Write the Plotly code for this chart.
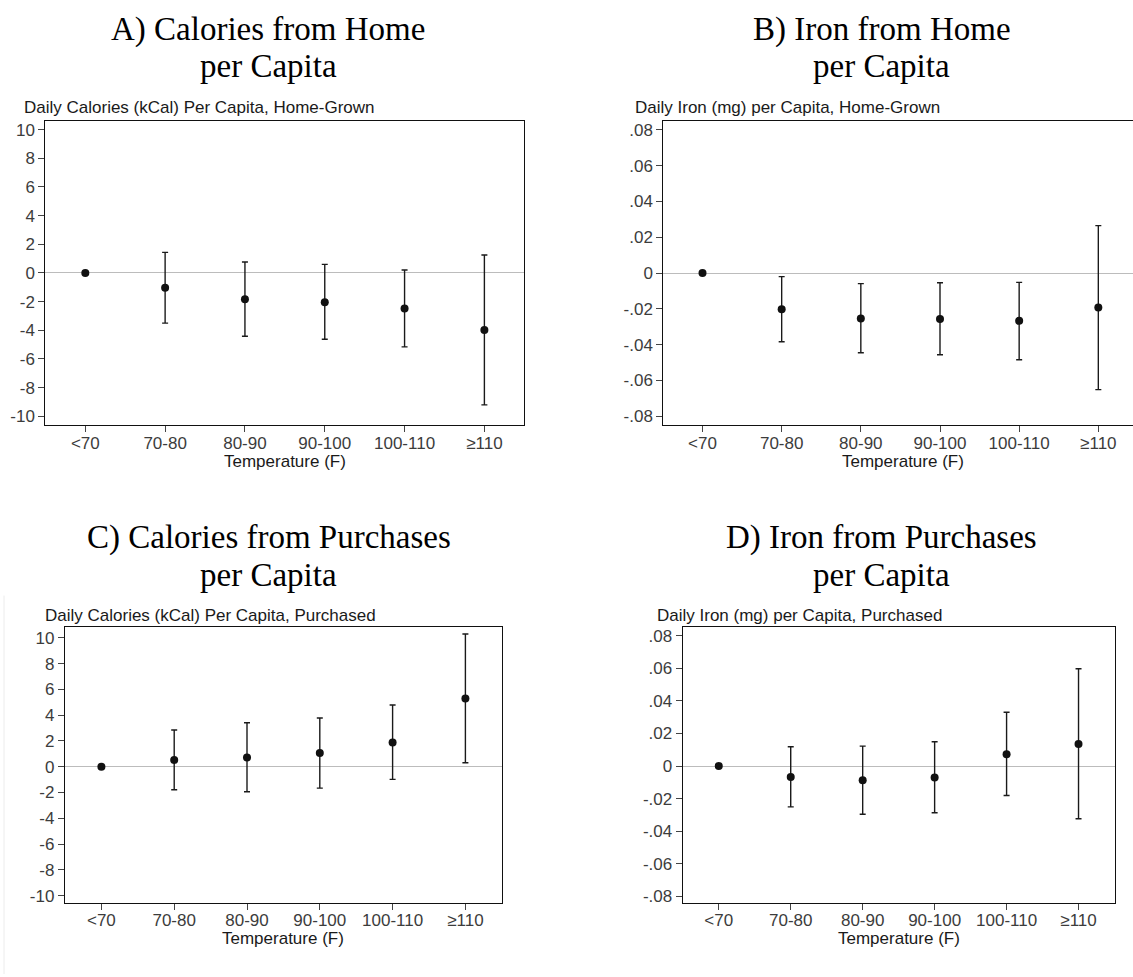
import plotly.graph_objects as go

W, H = 1133, 977

# Temperature bins (x categories)
temp_bins = ["<70", "70-80", "80-90", "90-100", "100-110", "≥110"]

# Panel A: daily calories per capita, home-grown
cal_home_est = [0, -1.04, -1.83, -2.04, -2.48, -3.98]
cal_home_lo = [None, -3.50, -4.42, -4.63, -5.16, -9.21]
cal_home_hi = [None, 1.435, 0.76, 0.60, 0.21, 1.25]

# Panel B: daily iron per capita, home-grown
iron_home_est = [0, -0.0202, -0.0254, -0.0256, -0.0267, -0.0193]
iron_home_lo = [None, -0.0384, -0.0445, -0.0456, -0.0484, -0.0651]
iron_home_hi = [None, -0.0020, -0.0059, -0.0054, -0.0052, 0.0265]

# Panel C: daily calories per capita, purchased
cal_purch_est = [0, 0.52, 0.72, 1.06, 1.89, 5.30]
cal_purch_lo = [None, -1.79, -1.94, -1.66, -0.98, 0.31]
cal_purch_hi = [None, 2.85, 3.42, 3.78, 4.79, 10.30]

# Panel D: daily iron per capita, purchased
iron_purch_est = [0, -0.0067, -0.0088, -0.0071, 0.0073, 0.0135]
iron_purch_lo = [None, -0.0251, -0.0296, -0.0287, -0.0181, -0.0324]
iron_purch_hi = [None, 0.0118, 0.0122, 0.0149, 0.0330, 0.0597]

# Y tick values / labels
cal_ticks = [-10, -8, -6, -4, -2, 0, 2, 4, 6, 8, 10]
cal_ticktext = ["-10", "-8", "-6", "-4", "-2", "0", "2", "4", "6", "8", "10"]
iron_ticks = [-0.08, -0.06, -0.04, -0.02, 0, 0.02, 0.04, 0.06, 0.08]
iron_ticktext = ["-.08", "-.06", "-.04", "-.02", "0", ".02", ".04", ".06", ".08"]

# Titles
panel_titles = [
    ["A) Calories from Home", "per Capita"],
    ["B) Iron from Home", "per Capita"],
    ["C) Calories from Purchases", "per Capita"],
    ["D) Iron from Purchases", "per Capita"],
]
y_titles = [
    "Daily Calories (kCal) Per Capita, Home-Grown",
    "Daily Iron (mg) per Capita, Home-Grown",
    "Daily Calories (kCal) Per Capita, Purchased",
    "Daily Iron (mg) per Capita, Purchased",
]
x_title = "Temperature (F)"

SANS = "Liberation Sans, Arial, Helvetica, sans-serif"
SERIF = "Liberation Serif, Times New Roman, serif"


def px(x):
    return x / W


def py(y):
    return 1 - y / H


# Per-panel geometry in pixels: box (left, top, right, bottom)
panels = [
    dict(est=cal_home_est, lo=cal_home_lo, hi=cal_home_hi,
         box=(45.4, 120.7, 524.3, 426.0), xr=[-0.5, 5.5], yr=[-10.63, 10.59],
         ticks=cal_ticks, ticktext=cal_ticktext, right_line=True,
         title_x=268, title_y=(28.3, 65.5), sub_x=22, sub_y=107.3,
         xt_x=284.9, xt_y=462.5, xlab_shift=-4),
    dict(est=iron_home_est, lo=iron_home_lo, hi=iron_home_hi,
         box=(663.4, 120.7, 1133.0, 426.0), xr=[-0.494, 5.438], yr=[-0.0850, 0.0848],
         ticks=iron_ticks, ticktext=iron_ticktext, right_line=False,
         title_x=881.6, title_y=(28.3, 65.5), sub_x=633, sub_y=107.3,
         xt_x=902.7, xt_y=462.5, xlab_shift=-4),
    dict(est=cal_purch_est, lo=cal_purch_lo, hi=cal_purch_hi,
         box=(65.0, 628.3, 501.8, 906.0), xr=[-0.5, 5.5], yr=[-10.60, 10.87],
         ticks=cal_ticks, ticktext=cal_ticktext, right_line=True,
         title_x=268.6, title_y=(538.3, 576.7), sub_x=43, sub_y=616.7,
         xt_x=283.4, xt_y=941.0, xlab_shift=-5),
    dict(est=iron_purch_est, lo=iron_purch_lo, hi=iron_purch_hi,
         box=(682.8, 628.7, 1114.5, 906.0), xr=[-0.5, 5.5], yr=[-0.0843, 0.0853],
         ticks=iron_ticks, ticktext=iron_ticktext, right_line=True,
         title_x=881.0, title_y=(538.3, 576.7), sub_x=655, sub_y=616.7,
         xt_x=898.7, xt_y=941.0, xlab_shift=-5),
]

fig = go.Figure()
layout = dict(
    width=W, height=H,
    margin=dict(l=0, r=0, t=0, b=0),
    paper_bgcolor="white", plot_bgcolor="white",
    showlegend=False,
    annotations=[], shapes=[],
)

for i, p in enumerate(panels, start=1):
    sfx = "" if i == 1 else str(i)
    up = [None if h is None else h - e for h, e in zip(p["hi"], p["est"])]
    down = [None if l is None else e - l for l, e in zip(p["lo"], p["est"])]
    fig.add_trace(go.Scatter(
        x=temp_bins, y=p["est"], mode="markers",
        marker=dict(color="#111111", size=8),
        error_y=dict(type="data", symmetric=False, array=up, arrayminus=down,
                     color="#1a1a1a", thickness=1.4, width=3),
        xaxis="x" + sfx, yaxis="y" + sfx, hoverinfo="skip",
    ))
    l, t, r, b = p["box"]
    layout["xaxis" + sfx] = dict(
        domain=[px(l), px(r)], anchor="y" + sfx, type="category",
        range=p["xr"], showgrid=False, zeroline=False,
        showline=True, linecolor="#111111", linewidth=1.3, mirror=True,
        ticks="outside", ticklen=6, tickwidth=1, tickcolor="#444444",
        ticklabelstandoff=p["xlab_shift"],
        tickfont=dict(family=SANS, size=17, color="#3c3c3c"),
        fixedrange=True,
    )
    layout["yaxis" + sfx] = dict(
        domain=[py(b), py(t)], anchor="x" + sfx,
        range=p["yr"], showgrid=False,
        zeroline=True, zerolinecolor="#bcbcbc", zerolinewidth=1.2,
        showline=True, linecolor="#111111", linewidth=1.3,
        mirror=p["right_line"],
        tickmode="array", tickvals=p["ticks"], ticktext=p["ticktext"],
        ticks="outside", ticklen=6, tickwidth=1, tickcolor="#444444",
        tickfont=dict(family=SANS, size=17, color="#3c3c3c"),
        fixedrange=True,
    )
    for line, ly in zip(panel_titles[i - 1], p["title_y"]):
        layout["annotations"].append(dict(
            text=line, x=px(p["title_x"]), y=py(ly), xref="paper", yref="paper",
            xanchor="center", yanchor="middle", showarrow=False,
            font=dict(family=SERIF, size=33, color="#000000"),
        ))
    layout["annotations"].append(dict(
        text=y_titles[i - 1], x=px(p["sub_x"]), y=py(p["sub_y"]),
        xref="paper", yref="paper", xanchor="left", yanchor="middle",
        showarrow=False, font=dict(family=SANS, size=17, color="#1a1a1a"),
    ))
    layout["annotations"].append(dict(
        text=x_title, x=px(p["xt_x"]), y=py(p["xt_y"]),
        xref="paper", yref="paper", xanchor="center", yanchor="middle",
        showarrow=False, font=dict(family=SANS, size=17, color="#1a1a1a"),
    ))

# Faint frame edge at the left of the lower-left panel
layout["shapes"].append(dict(
    type="line", xref="paper", yref="paper",
    x0=px(4), x1=px(4), y0=py(597), y1=0,
    line=dict(color="#ececec", width=1),
))

fig.update_layout(**layout)
fig.write_html("out.html")
